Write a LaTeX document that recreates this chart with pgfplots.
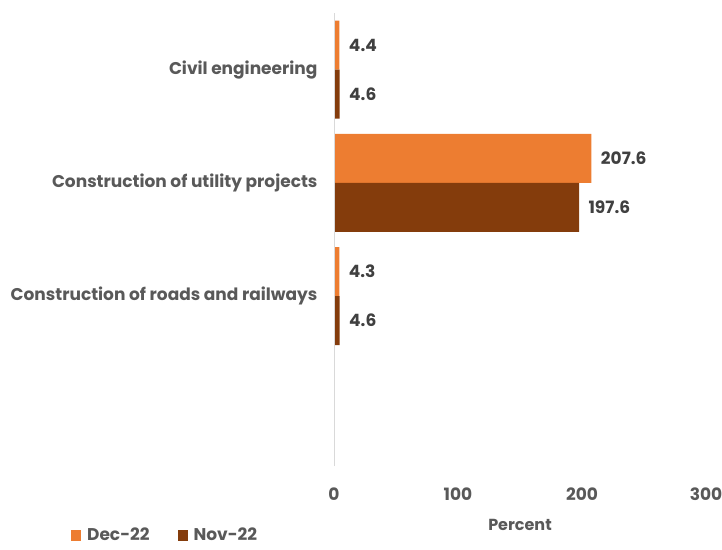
\documentclass[border=0pt]{standalone}
\usepackage{pgfplots}
\pgfplotsset{compat=1.18}
\usepackage{fontspec}
\setmainfont{Poppins}
\definecolor{decc}{HTML}{ED7D31}
\definecolor{novc}{HTML}{843C0C}
\definecolor{txt}{HTML}{595959}
\definecolor{dlab}{HTML}{404040}
\definecolor{axl}{HTML}{D9D9D9}
\begin{document}
\begin{tikzpicture}[x=1pt,y=1pt]
\useasboundingbox (0,0) rectangle (722,549);
\begin{axis}[
  at={(334pt,83pt)}, anchor=south west,
  scale only axis, width=372pt, height=453pt,
  xmin=0, xmax=300, ymin=-0.5, ymax=3.5,
  xtick={0,100,200,300},
  ytick={1,2,3},
  yticklabels={Construction of roads and railways,Construction of utility projects,Civil engineering},
  axis line style={draw=none},
  major tick length=0pt,
  xticklabel style={font=\fontsize{17}{19}\selectfont\bfseries, text=txt, yshift=-18pt},
  yticklabel style={font=\fontsize{17}{19}\selectfont\bfseries, text=txt, xshift=-13pt},
  /pgf/number format/assume math mode=true,
  xlabel={Percent},
  xlabel style={font=\fontsize{16}{18}\selectfont\bfseries, text=txt, yshift=-12pt},
  xbar, bar width=49pt, bar shift=0pt,
  nodes near coords,
  nodes near coords style={font=\fontsize{17}{19}\selectfont\bfseries, text=dlab, anchor=west, xshift=6pt},
  point meta=explicit symbolic,
  legend style={draw=none, fill=none, at={(rel axis cs:-0.454,-0.153)}, anchor=center, legend columns=2,
    font=\fontsize{17}{19}\selectfont\bfseries, text=txt,
    /tikz/every even column/.append style={column sep=26pt},
    /tikz/every odd column/.append style={column sep=4pt}},
  legend image code/.code={\fill (0pt,-5.5pt) rectangle (10pt,5.5pt);},
  clip=false,
]
\addplot[fill=decc, draw=none] coordinates {(4.4,3.2165) [4.4] (207.6,2.2165) [207.6] (4.3,1.2165) [4.3]};
\addlegendentry{Dec-22}
\addplot[fill=novc, draw=none] coordinates {(4.6,2.7835) [4.6] (197.6,1.7835) [197.6] (4.6,0.7835) [4.6]};
\addlegendentry{Nov-22}
\draw[axl, line width=1pt] (axis cs:0,-0.5) -- (axis cs:0,3.5);
\end{axis}
\end{tikzpicture}
\end{document}
